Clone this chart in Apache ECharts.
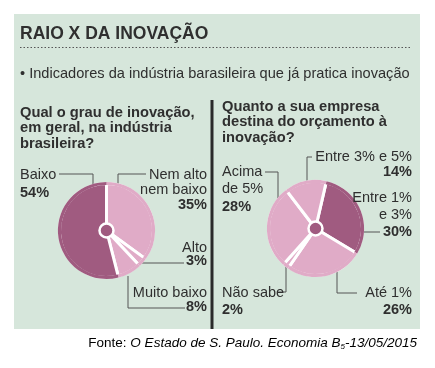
<!DOCTYPE html>
<html><head><meta charset="utf-8">
<script src="https://cdn.jsdelivr.net/npm/echarts@6/dist/echarts.min.js"></script>
<style>html,body{margin:0;padding:0;background:#fff}#c{width:435px;height:368px}</style>
</head><body><div id="c"></div>
<script>
// ---- texts ----
const title = 'RAIO X DA INOVAÇÃO';
const subtitle = '• Indicadores da indústria barasileira que já pratica inovação';
const question1 = 'Qual o grau de inovação,\nem geral, na indústria\nbrasileira?';
const question2 = 'Quanto a sua empresa\ndestina do orçamento à\ninovação?';
const sourceParts = ['Fonte: ', 'O Estado de S. Paulo. Economia B', '5', '-13/05/2015'];

// ---- data ----
const grauCategories = ['Nem alto\nnem baixo', 'Alto', 'Muito baixo', 'Baixo'];
const grauValues = [35, 3, 8, 54];
const orcCategories = ['Entre 1%\ne 3%', 'Até 1%', 'Não sabe', 'Acima\nde 5%', 'Entre 3% e 5%'];
const orcValues = [30, 26, 2, 28, 14];

// ---- styles / layout ----
const DARK = '#a05b80', LIGHT = '#e0abc7';
const BG = '#d6e6db';
const TXT = '#2f2f2f';
const FONT = '"Liberation Sans", Arial, Helvetica, sans-serif';
const LINE = '#555555';
const pie1 = { center: [106.5, 230.5], r: 47 };
const pie2 = { center: [315.5, 228.5], r: 47 };
const LFS = 14.5;

const lay1 = [
  { x: 207, y: 167.5, align: 'right', lh: 15, color: LIGHT, line: [[146, 174], [118, 174], [118, 190]] },
  { x: 207, y: 241.5, align: 'right', lh: 13, color: LIGHT, line: [[184, 263], [142, 263]] },
  { x: 207, y: 286,   align: 'right', lh: 14, color: LIGHT, line: [[185, 308], [128, 308], [128, 276]] },
  { x: 20,  y: 166,   align: 'left',  lh: 18, color: DARK,  line: [[59, 174], [93, 174], [93, 187]] }
];
const lay2 = [
  { x: 412, y: 189.5, align: 'right', lh: 17, color: DARK,  line: [[362, 232], [380, 232]] },
  { x: 412, y: 284.5, align: 'right', lh: 17, color: LIGHT, line: [[357, 293], [337, 293], [337, 270]] },
  { x: 222, y: 284.5, align: 'left',  lh: 17, color: LIGHT, line: [[278, 292], [286, 292], [286, 266]] },
  { x: 222, y: 163,   align: 'left',  lh: 17.5, color: LIGHT, line: [[265, 172], [278, 172], [278, 198]] },
  { x: 412, y: 149.5, align: 'right', lh: 15, color: LIGHT, line: [[312, 157], [307, 157], [307, 184]] }
];

function rich(lh, align) {
  return {
    n: { fontSize: LFS, fontFamily: FONT, color: TXT, lineHeight: lh, align: align },
    b: { fontSize: LFS, fontFamily: FONT, color: TXT, lineHeight: lh, align: align, fontWeight: 'bold' }
  };
}
function buildData(cats, vals, lay) {
  return vals.map((v, i) => ({
    name: cats[i], value: v,
    itemStyle: { color: lay[i].color },
    label: { align: lay[i].align, rich: rich(lay[i].lh, lay[i].align) }
  }));
}
function fmt(p) {
  return p.name.split('\n').map(s => '{n|' + s + '}').join('\n') + '\n{b|' + p.value + '%}';
}
// filled pie with white separators
function pieSeries(cats, vals, lay, geo, startAngle) {
  return {
    type: 'pie', center: geo.center, radius: [0, geo.r], startAngle: startAngle,
    clockwise: true, animation: false, silent: true,
    itemStyle: { borderColor: '#ffffff', borderWidth: 3 },
    label: { show: false }, labelLine: { show: false },
    data: buildData(cats, vals, lay)
  };
}
// outer band of the same slices (hides the white rim) carrying the labels
function rimSeries(cats, vals, lay, geo, startAngle) {
  return {
    type: 'pie', center: geo.center, radius: [geo.r - 1.6, geo.r + 1.6], startAngle: startAngle,
    clockwise: true, avoidLabelOverlap: false, animation: false, silent: true,
    itemStyle: { borderWidth: 0 },
    label: { show: true, position: 'outside', formatter: fmt },
    labelLine: { show: true, length: 5, length2: 5, lineStyle: { color: LINE, width: 1 } },
    labelLayout: p => {
      const L = lay[p.dataIndex];
      return { x: L.x, y: L.y, align: L.align, verticalAlign: 'top', labelLinePoints: L.line };
    },
    data: buildData(cats, vals, lay)
  };
}

const chart = echarts.init(document.getElementById('c'), null, { renderer: 'canvas' });
chart.setOption({
  animation: false,
  backgroundColor: '#ffffff',
  graphic: [
    { type: 'rect', z: 0, shape: { x: 14, y: 14, width: 406, height: 315 }, style: { fill: BG } },
    { type: 'text', z: 1, x: 20, y: 34, style: { text: title, font: 'bold 17.5px ' + FONT, fill: TXT, textVerticalAlign: 'middle' } },
    { type: 'line', z: 1, shape: { x1: 20, y1: 47.5, x2: 411, y2: 47.5 }, style: { stroke: LINE, lineWidth: 1, lineDash: [1.5, 2] } },
    { type: 'text', z: 1, x: 20, y: 74, style: { text: subtitle, font: '14.6px ' + FONT, fill: TXT, textVerticalAlign: 'middle' } },
    { type: 'text', z: 1, x: 20, y: 105, style: { text: question1, font: 'bold 14.7px ' + FONT, fill: TXT, lineHeight: 15.5 } },
    { type: 'text', z: 1, x: 222, y: 99, style: { text: question2, font: 'bold 14.7px ' + FONT, fill: TXT, lineHeight: 15.5 } },
    { type: 'line', z: 1, shape: { x1: 212, y1: 100, x2: 212, y2: 329 }, style: { stroke: '#2a2a2a', lineWidth: 3 } },
    { type: 'circle', z: 10, shape: { cx: pie1.center[0], cy: pie1.center[1], r: 7 }, style: { fill: DARK, stroke: '#ffffff', lineWidth: 2.5 } },
    { type: 'circle', z: 10, shape: { cx: pie2.center[0], cy: pie2.center[1], r: 7 }, style: { fill: DARK, stroke: '#ffffff', lineWidth: 2.5 } },
    { type: 'text', z: 1, x: 417, y: 343, style: {
        text: '{r|' + sourceParts[0] + '}{i|' + sourceParts[1] + '}{s|' + sourceParts[2] + '}{i|' + sourceParts[3] + '}',
        align: 'right', verticalAlign: 'middle',
        rich: {
          r: { fontSize: 13.5, fontFamily: FONT, color: TXT },
          i: { fontSize: 13.5, fontFamily: FONT, color: TXT, fontStyle: 'italic' },
          s: { fontSize: 8, fontFamily: FONT, color: TXT, fontStyle: 'italic', padding: [8, 0, 0, 0] }
        }
      } }
  ],
  series: [
    pieSeries(grauCategories, grauValues, lay1, pie1, 90),
    rimSeries(grauCategories, grauValues, lay1, pie1, 90),
    pieSeries(orcCategories, orcValues, lay2, pie2, 77),
    rimSeries(orcCategories, orcValues, lay2, pie2, 77)
  ]
});
</script></body></html>
